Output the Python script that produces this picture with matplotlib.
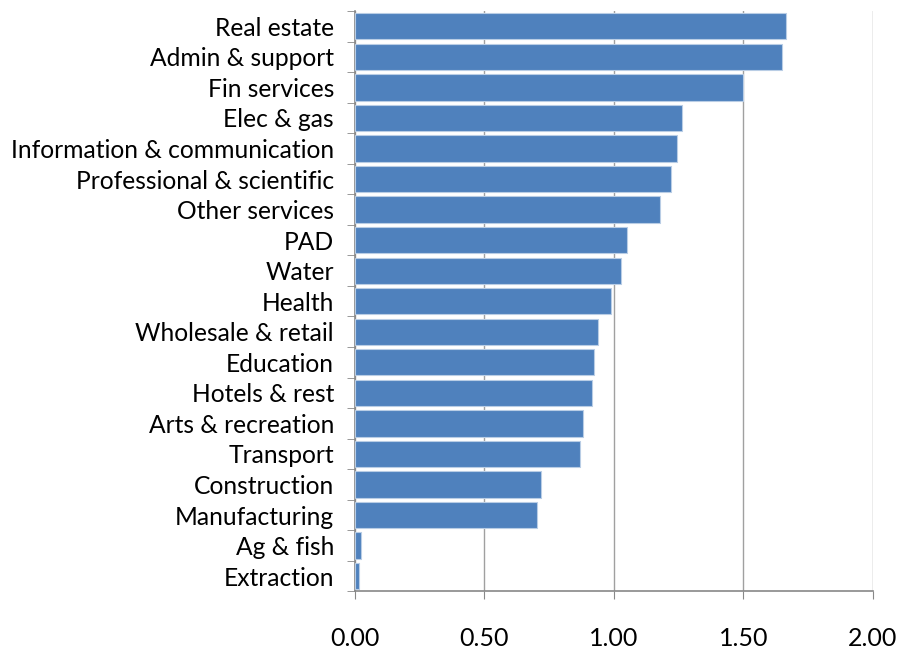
import matplotlib.pyplot as plt

# sectors, bottom of chart first
sectors = ['Extraction', 'Ag & fish', 'Manufacturing', 'Construction', 'Transport',
           'Arts & recreation', 'Hotels & rest', 'Education', 'Wholesale & retail',
           'Health', 'Water', 'PAD', 'Other services', 'Professional & scientific',
           'Information & communication', 'Elec & gas', 'Fin services',
           'Admin & support', 'Real estate']
values = [0.015, 0.023, 0.703, 0.718, 0.869,
          0.880, 0.915, 0.923, 0.938,
          0.988, 1.027, 1.050, 1.180, 1.220,
          1.243, 1.262, 1.498,
          1.649, 1.664]
xticks = [0.0, 0.5, 1.0, 1.5, 2.0]

plt.rcParams['font.family'] = ['Lato', 'DejaVu Sans']

fig, ax = plt.subplots(figsize=(8.98, 6.52), dpi=100)
fig.subplots_adjust(left=0.395, right=0.972, top=0.983, bottom=0.093)

ax.barh(range(len(sectors)), values, height=0.86, color='#4f81bd',
        edgecolor='#b9cde5', linewidth=0.8, zorder=3)

ax.set_xlim(0, 2.0)
ax.set_ylim(-0.5, len(sectors) - 0.5)
ax.set_xticks(xticks)
ax.set_xticklabels([f'{t:.2f}' for t in xticks], fontsize=18)
ax.set_yticks(range(len(sectors)))
ax.set_yticklabels(sectors, fontsize=17.7)
ax.tick_params(axis='y', length=0, pad=15)
ax.tick_params(axis='x', length=6, color='#888888', pad=20)

# category boundary ticks on the y axis
ax.set_yticks([i - 0.5 for i in range(len(sectors) + 1)], minor=True)
ax.tick_params(axis='y', which='minor', length=6, color='#888888')

ax.grid(axis='x', color='#a0a0a0', linewidth=1, zorder=0)
for s in ['top', 'right']:
    ax.spines[s].set_visible(False)
for s in ['left', 'bottom']:
    ax.spines[s].set_color('#888888')
    ax.spines[s].set_linewidth(1.2)

fig.savefig('out.png')
